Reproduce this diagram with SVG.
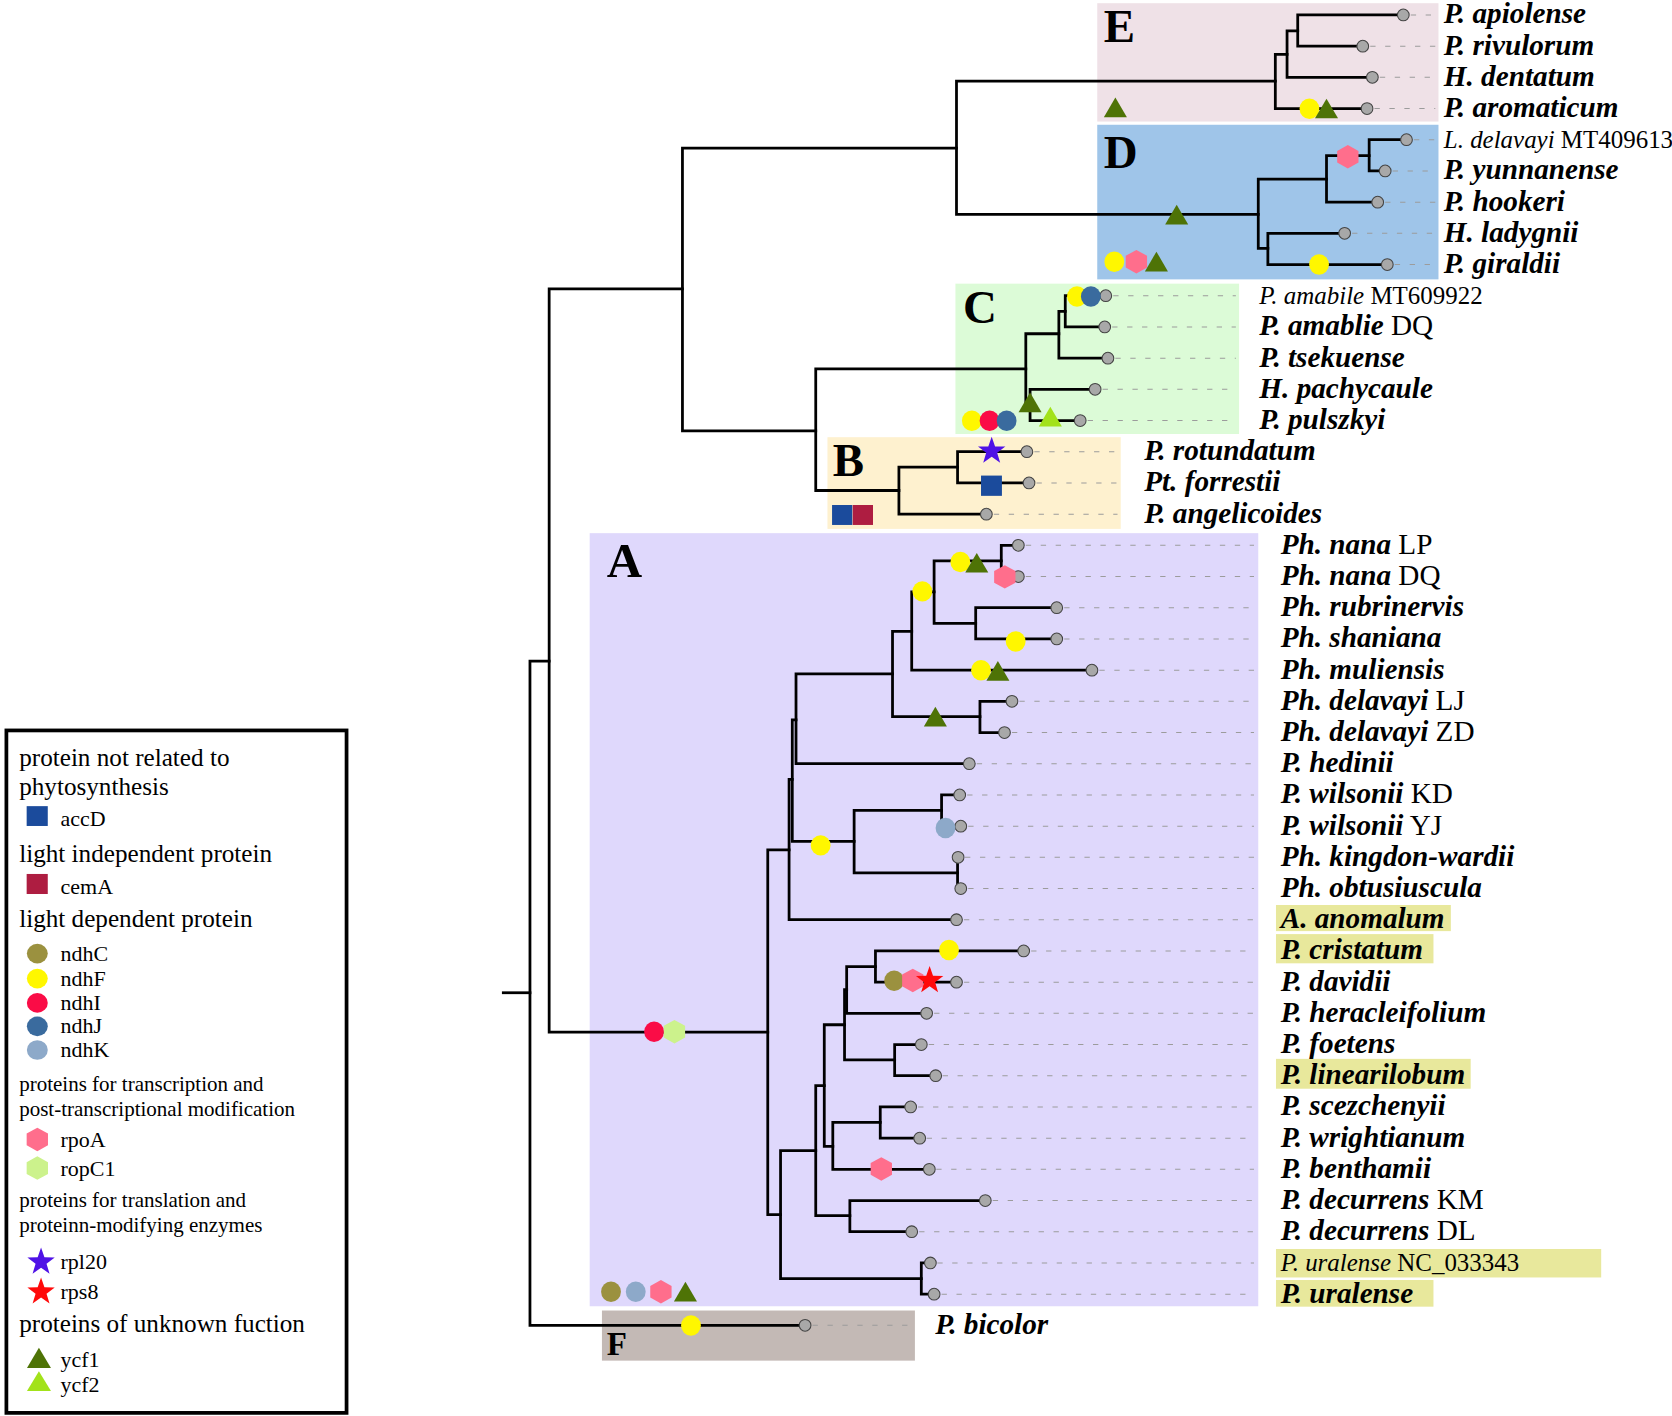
<svg xmlns="http://www.w3.org/2000/svg" xmlns:xlink="http://www.w3.org/1999/xlink" width="1672" height="1416" viewBox="0 0 1672 1416">
<style>
.br{stroke:#000;stroke-width:2.6;fill:none;stroke-linejoin:miter;stroke-linecap:square}
.ds{stroke:#9c9c9c;stroke-width:1;stroke-dasharray:5 9;fill:none}
.tip{fill:#a8a8a8;stroke:#444;stroke-width:1}
text{font-family:"Liberation Serif","Times New Roman",serif;fill:#000}
.lb{font-size:27.4px;font-weight:bold;font-style:italic}
.rg{font-weight:normal;font-style:normal}
.lbs{font-size:23.4px;font-weight:normal;font-style:italic}
.cl{font-size:44px;font-weight:bold}
.lg1{font-size:23.6px}
.lg2{font-size:19.7px}
.lgi{font-size:20.6px}
.yel{fill:#fff700}.olv{fill:#9b913f}.red{fill:#fa0c46}.blu{fill:#3a6b9e}.lbl{fill:#8da9c9}
.pnk{fill:#ff6e8c}.lgr{fill:#ccf28c}.pur{fill:#4f12e6}.rst{fill:#ff0a0a}
.dg{fill:#4e7306}.lg{fill:#a2e21a}.acc{fill:#1b4b9c}.cem{fill:#ae1d41}
.hl{fill:#e8e89c}
</style>
<defs>
<path id="hex" d="M0,-11 L10,-5.5 L10,5.5 L0,11 L-10,5.5 L-10,-5.5 Z"/>
<path id="tri" d="M0,-9.5 L10.8,9 L-10.8,9 Z"/>
<path id="star" d="M0,-13.5 L3.17,-4.37 L12.84,-4.17 L5.14,1.67 L7.94,10.92 L0,5.4 L-7.94,10.92 L-5.14,1.67 L-12.84,-4.17 L-3.17,-4.37 Z"/>
<ellipse id="dot" cx="0" cy="0" rx="9.3" ry="9.6"/>
</defs>
<rect width="1672" height="1416" fill="#fff"/>
<g transform="scale(1.066327)">
<g id="clade-boxes">
<rect x="1029" y="3" width="320" height="111" fill="#efe1e7"/>
<rect x="1029" y="117" width="320" height="145" fill="#9fc5e9"/>
<rect x="896" y="266" width="266" height="141" fill="#dcfbd7"/>
<rect x="776" y="410" width="275" height="86" fill="#fef1cf"/>
<rect x="553" y="500" width="627" height="725" fill="#dfd8fc"/>
<rect x="564.5" y="1229" width="293.5" height="47" fill="#c3b9b5"/>
<rect class="hl" x="1196.6" y="848.7" width="164" height="24.5"/>
<rect class="hl" x="1196.6" y="876" width="147.7" height="27.4"/>
<rect class="hl" x="1196.6" y="993" width="182.6" height="28"/>
<rect class="hl" x="1196.6" y="1171.3" width="305" height="26.7"/>
<rect class="hl" x="1196.6" y="1200.4" width="147.7" height="25"/>
</g>
<g id="clade-labels">
<text class="cl" x="1035" y="39">E</text>
<text class="cl" x="1035" y="158">D</text>
<text class="cl" x="903" y="302.6">C</text>
<text class="cl" x="781" y="446">B</text>
<text class="cl" x="569" y="541" style="font-size:46px">A</text>
<text class="cl" x="569" y="1270.7" style="font-size:31px">F</text>
</g>
<g id="connectors">
<path class="br" d="M472,931 H497"/>
<path class="br" d="M515,620 H497 V1243 H755"/>
<path class="br" d="M640,271 H515 V968 H720"/>
<path class="br" d="M897,139 H640 V404 H765"/>
<path class="br" d="M1196,76 H897 V201 H1180"/>
<path class="br" d="M1207,51 H1196 V101.8 H1282"/>
<path class="br" d="M1217,29 H1207 V72.5 H1287"/>
<path class="br" d="M1316,14 H1217 V43.3 H1278"/>
<path class="br" d="M1244,168 H1180 V233 H1189"/>
<path class="br" d="M1284,146 H1244 V189.6 H1292"/>
<path class="br" d="M1319,131 H1284 V160.3 H1299"/>
<path class="br" d="M1261,218.8 H1189 V248.1 H1301"/>
<path class="br" d="M962,346 H765 V460 H843"/>
<path class="br" d="M993,313 H962 V379 H966"/>
<path class="br" d="M999,292 H993 V335.9 H1039"/>
<path class="br" d="M1037,277.3 H999 V306.6 H1036"/>
<path class="br" d="M1027,365.1 H966 V394.4 H1013"/>
<path class="br" d="M898,438 H843 V482.2 H925"/>
<path class="br" d="M963,423.6 H898 V452.9 H965"/>
<path class="br" d="M740,797 H720 V1139 H732"/>
<path class="br" d="M743,731 H740 V862.5 H897"/>
<path class="br" d="M746.5,675 H743 V789 H801"/>
<path class="br" d="M837,632 H746.5 V716.2 H909"/>
<path class="br" d="M855,592 H837 V672 H919"/>
<path class="br" d="M949,657.7 H919 V687 H942"/>
<path class="br" d="M876,555 H855 V628.5 H1024"/>
<path class="br" d="M939,526 H876 V584.5 H915"/>
<path class="br" d="M955,511.4 H939 V540.7 H955"/>
<path class="br" d="M991,569.9 H915 V599.2 H991"/>
<path class="br" d="M883,760 H801 V818.5 H898"/>
<path class="br" d="M900,745.5 H883 V774.8 H901"/>
<path class="br" d="M898.5,804 H898 V833.3 H901"/>
<path class="br" d="M765,1079 H732 V1199 H864"/>
<path class="br" d="M872.5,1184.4 H864 V1213.7 H876"/>
<path class="br" d="M773,1018 H765 V1140 H797"/>
<path class="br" d="M924,1125.9 H797 V1155.1 H855"/>
<path class="br" d="M792,961 H773 V1075 H781"/>
<path class="br" d="M825.5,1052.5 H781 V1096.6 H871.5"/>
<path class="br" d="M854,1038.1 H825.5 V1067.4 H862.5"/>
<path class="br" d="M794,928 H792 V994 H839"/>
<path class="br" d="M821,906.5 H794 V950.3 H869"/>
<path class="br" d="M960,891.8 H821 V921.1 H897"/>
<path class="br" d="M864,979.6 H839 V1008.8 H877.5"/>
<g id="dashes">
<path class="ds" d="M1323,14 H1346 M1285,43.3 H1346 M1294,72.5 H1346 M1289,101.8 H1346 M1326,131 H1346 M1306,160.3 H1346 M1299,189.6 H1346 M1268,218.8 H1346 M1308,248.1 H1346"/>
<path class="ds" d="M1044,277.3 H1159 M1043,306.6 H1159 M1046,335.9 H1159 M1034,365.1 H1159 M1020,394.4 H1159"/>
<path class="ds" d="M970,423.6 H1048 M972,452.9 H1048 M932,482.2 H1048"/>
<path class="ds" d="M962,511.4 H1176 M962,540.7 H1176 M998,569.9 H1176 M998,599.2 H1176 M1031,628.5 H1176 M956,657.7 H1176 M949,687 H1176 M916,716.2 H1176 M907,745.5 H1176 M908,774.8 H1176 M905,804 H1176 M908,833.3 H1176 M904,862.5 H1176 M967,891.8 H1176 M904,921.1 H1176 M876,950.3 H1176 M871,979.6 H1176 M884,1008.8 H1176 M861,1038.1 H1176 M869,1067.4 H1176 M878,1096.6 H1176 M931,1125.9 H1176 M862,1155.1 H1176 M879,1184.4 H1176 M883,1213.7 H1176"/>
<path class="ds" d="M762,1242.9 H854"/>
</g>
</g>
<g id="tips">
<circle class="tip" cx="1316" cy="14" r="5.5"/>
<circle class="tip" cx="1278" cy="43.3" r="5.5"/>
<circle class="tip" cx="1287" cy="72.5" r="5.5"/>
<circle class="tip" cx="1282" cy="101.8" r="5.5"/>
<circle class="tip" cx="1319" cy="131" r="5.5"/>
<circle class="tip" cx="1299" cy="160.3" r="5.5"/>
<circle class="tip" cx="1292" cy="189.6" r="5.5"/>
<circle class="tip" cx="1261" cy="218.8" r="5.5"/>
<circle class="tip" cx="1301" cy="248.1" r="5.5"/>
<circle class="tip" cx="1037" cy="277.3" r="5.5"/>
<circle class="tip" cx="1036" cy="306.6" r="5.5"/>
<circle class="tip" cx="1039" cy="335.9" r="5.5"/>
<circle class="tip" cx="1027" cy="365.1" r="5.5"/>
<circle class="tip" cx="1013" cy="394.4" r="5.5"/>
<circle class="tip" cx="963" cy="423.6" r="5.5"/>
<circle class="tip" cx="965" cy="452.9" r="5.5"/>
<circle class="tip" cx="925" cy="482.2" r="5.5"/>
<circle class="tip" cx="955" cy="511.4" r="5.5"/>
<circle class="tip" cx="955" cy="540.7" r="5.5"/>
<circle class="tip" cx="991" cy="569.9" r="5.5"/>
<circle class="tip" cx="991" cy="599.2" r="5.5"/>
<circle class="tip" cx="1024" cy="628.5" r="5.5"/>
<circle class="tip" cx="949" cy="657.7" r="5.5"/>
<circle class="tip" cx="942" cy="687" r="5.5"/>
<circle class="tip" cx="909" cy="716.2" r="5.5"/>
<circle class="tip" cx="900" cy="745.5" r="5.5"/>
<circle class="tip" cx="901" cy="774.8" r="5.5"/>
<circle class="tip" cx="898.5" cy="804" r="5.5"/>
<circle class="tip" cx="901" cy="833.3" r="5.5"/>
<circle class="tip" cx="897" cy="862.5" r="5.5"/>
<circle class="tip" cx="960" cy="891.8" r="5.5"/>
<circle class="tip" cx="897" cy="921.1" r="5.5"/>
<circle class="tip" cx="869" cy="950.3" r="5.5"/>
<circle class="tip" cx="864" cy="979.6" r="5.5"/>
<circle class="tip" cx="877.5" cy="1008.8" r="5.5"/>
<circle class="tip" cx="854" cy="1038.1" r="5.5"/>
<circle class="tip" cx="862.5" cy="1067.4" r="5.5"/>
<circle class="tip" cx="871.5" cy="1096.6" r="5.5"/>
<circle class="tip" cx="924" cy="1125.9" r="5.5"/>
<circle class="tip" cx="855" cy="1155.1" r="5.5"/>
<circle class="tip" cx="872.5" cy="1184.4" r="5.5"/>
<circle class="tip" cx="876" cy="1213.7" r="5.5"/>
<circle class="tip" cx="755" cy="1242.9" r="5.5"/>
</g>
<g id="gene-markers">
<use href="#tri" class="dg" x="1046" y="101"/>
<use href="#dot" class="yel" x="1228" y="102"/>
<use href="#tri" class="dg" x="1244" y="102"/>
<use href="#tri" class="dg" x="1103.5" y="201.5"/>
<use href="#hex" class="pnk" x="1264" y="147"/>
<use href="#dot" class="yel" x="1237" y="248"/>
<use href="#dot" class="yel" x="1045" y="245.4"/>
<use href="#hex" class="pnk" x="1065.7" y="245.4"/>
<use href="#tri" class="dg" x="1084.5" y="245.5"/>
<use href="#dot" class="yel" x="1010" y="278"/>
<use href="#dot" class="blu" x="1023" y="278"/>
<use href="#dot" class="yel" x="911.4" y="394.5"/>
<use href="#dot" class="red" x="928" y="394.5"/>
<use href="#dot" class="blu" x="944" y="394.5"/>
<use href="#tri" class="dg" x="966" y="377.5"/>
<use href="#tri" class="lg" x="985" y="391"/>
<use href="#star" class="pur" x="930" y="423"/>
<rect class="acc" x="920" y="446" width="19.6" height="19"/>
<rect class="acc" x="780.3" y="473.6" width="19" height="18.7"/>
<rect class="cem" x="799.7" y="473.6" width="19" height="18.7"/>
<use href="#dot" class="yel" x="900.6" y="527"/>
<use href="#tri" class="dg" x="916" y="528"/>
<use href="#hex" class="pnk" x="942.3" y="541"/>
<use href="#dot" class="yel" x="865" y="554.6"/>
<use href="#dot" class="yel" x="952.5" y="601.5"/>
<use href="#dot" class="yel" x="920" y="628.5"/>
<use href="#tri" class="dg" x="935.8" y="629.5"/>
<use href="#tri" class="dg" x="877.2" y="672.3"/>
<use href="#dot" class="yel" x="769.6" y="792.8"/>
<use href="#dot" class="lbl" x="886.7" y="776.4"/>
<use href="#dot" class="red" x="613.4" y="967.5"/>
<use href="#hex" class="lgr" x="632.5" y="967.5"/>
<use href="#dot" class="yel" x="890" y="891"/>
<use href="#dot" class="olv" x="838.5" y="919.7"/>
<use href="#hex" class="pnk" x="856" y="919.5"/>
<use href="#star" class="rst" x="871.8" y="919.5"/>
<use href="#hex" class="pnk" x="826.5" y="1096.2"/>
<use href="#dot" class="olv" x="573" y="1211.4"/>
<use href="#dot" class="lbl" x="596.2" y="1211.4"/>
<use href="#hex" class="pnk" x="619.8" y="1211.4"/>
<use href="#tri" class="dg" x="642.8" y="1211.5"/>
<use href="#dot" class="yel" x="648" y="1243"/>
</g>
<g id="taxon-labels">
<text class="lb" x="1354" y="22">P. apiolense</text>
<text class="lb" x="1354" y="51.3">P. rivulorum</text>
<text class="lb" x="1354" y="80.5">H. dentatum</text>
<text class="lb" x="1354" y="109.8">P. aromaticum</text>
<text class="lbs" x="1354" y="138.5">L. delavayi<tspan class="rg"> MT409613</tspan></text>
<text class="lb" x="1354" y="168.3">P. yunnanense</text>
<text class="lb" x="1354" y="197.6">P. hookeri</text>
<text class="lb" x="1354" y="226.8">H. ladygnii</text>
<text class="lb" x="1354" y="256.1">P. giraldii</text>
<text class="lbs" x="1181" y="284.8">P. amabile<tspan class="rg"> MT609922</tspan></text>
<text class="lb" x="1181" y="314.6">P. amablie<tspan class="rg"> DQ</tspan></text>
<text class="lb" x="1181" y="343.9">P. tsekuense</text>
<text class="lb" x="1181" y="373.1">H. pachycaule</text>
<text class="lb" x="1181" y="402.4">P. pulszkyi</text>
<text class="lb" x="1073" y="431.6">P. rotundatum</text>
<text class="lb" x="1073" y="460.9">Pt. forrestii</text>
<text class="lb" x="1073" y="490.2">P. angelicoides</text>
<text class="lb" x="1201" y="519.4">Ph. nana<tspan class="rg"> LP</tspan></text>
<text class="lb" x="1201" y="548.7">Ph. nana<tspan class="rg"> DQ</tspan></text>
<text class="lb" x="1201" y="577.9">Ph. rubrinervis</text>
<text class="lb" x="1201" y="607.2">Ph. shaniana</text>
<text class="lb" x="1201" y="636.5">Ph. muliensis</text>
<text class="lb" x="1201" y="665.7">Ph. delavayi<tspan class="rg"> LJ</tspan></text>
<text class="lb" x="1201" y="695">Ph. delavayi<tspan class="rg"> ZD</tspan></text>
<text class="lb" x="1201" y="724.2">P. hedinii</text>
<text class="lb" x="1201" y="753.5">P. wilsonii<tspan class="rg"> KD</tspan></text>
<text class="lb" x="1201" y="782.8">P. wilsonii<tspan class="rg"> YJ</tspan></text>
<text class="lb" x="1201" y="812">Ph. kingdon-wardii</text>
<text class="lb" x="1201" y="841.3">Ph. obtusiuscula</text>
<text class="lb" x="1201" y="870.5">A. anomalum</text>
<text class="lb" x="1201" y="899.8">P. cristatum</text>
<text class="lb" x="1201" y="929.1">P. davidii</text>
<text class="lb" x="1201" y="958.3">P. heracleifolium</text>
<text class="lb" x="1201" y="987.6">P. foetens</text>
<text class="lb" x="1201" y="1016.8">P. linearilobum</text>
<text class="lb" x="1201" y="1046.1">P. scezchenyii</text>
<text class="lb" x="1201" y="1075.4">P. wrightianum</text>
<text class="lb" x="1201" y="1104.6">P. benthamii</text>
<text class="lb" x="1201" y="1133.9">P. decurrens<tspan class="rg"> KM</tspan></text>
<text class="lb" x="1201" y="1163.1">P. decurrens<tspan class="rg"> DL</tspan></text>
<text class="lbs" x="1201" y="1191.9">P. uralense<tspan class="rg"> NC_033343</tspan></text>
<text class="lb" x="1201" y="1221.7">P. uralense</text>
<text class="lb" x="877" y="1250.9">P. bicolor</text>
</g>
<g id="legend">
<rect x="6" y="685" width="319" height="640" fill="#fff" stroke="#000" stroke-width="3.5"/>
<text class="lg1" x="18" y="718.3">protein not related to</text>
<text class="lg1" x="18" y="746">phytosynthesis</text>
<rect class="acc" x="25" y="756" width="19.8" height="18.6"/>
<text class="lgi" x="56.8" y="774.6">accD</text>
<text class="lg1" x="18" y="808">light independent protein</text>
<rect class="cem" x="25" y="819.6" width="19.8" height="18.8"/>
<text class="lgi" x="56.8" y="838">cemA</text>
<text class="lg1" x="18" y="869">light dependent protein</text>
<ellipse class="olv" cx="35" cy="894.3" rx="9.8" ry="9.2"/>
<text class="lgi" x="56.8" y="901">ndhC</text>
<ellipse class="yel" cx="35" cy="917.7" rx="9.8" ry="9.2"/>
<text class="lgi" x="56.8" y="924.4">ndhF</text>
<ellipse class="red" cx="35" cy="940.5" rx="9.8" ry="9.2"/>
<text class="lgi" x="56.8" y="947.2">ndhI</text>
<ellipse class="blu" cx="35" cy="962.5" rx="9.8" ry="9.2"/>
<text class="lgi" x="56.8" y="969.2">ndhJ</text>
<ellipse class="lbl" cx="35" cy="984.7" rx="9.8" ry="9.2"/>
<text class="lgi" x="56.8" y="991.4">ndhK</text>
<text class="lg2" x="18" y="1023">proteins for transcription and</text>
<text class="lg2" x="18" y="1046.6">post-transcriptional modification</text>
<use href="#hex" class="pnk" x="35" y="1068.6"/>
<text class="lgi" x="56.8" y="1076">rpoA</text>
<use href="#hex" class="lgr" x="35" y="1095.4"/>
<text class="lgi" x="56.8" y="1102.5">ropC1</text>
<text class="lg2" x="18" y="1131.7">proteins for translation and</text>
<text class="lg2" x="18" y="1155.2">proteinn-modifying enzymes</text>
<use href="#star" class="pur" x="38.5" y="1183.5"/>
<text class="lgi" x="56.8" y="1190">rpl20</text>
<use href="#star" class="rst" x="38.5" y="1211.5"/>
<text class="lgi" x="56.8" y="1218.5">rps8</text>
<text class="lg1" x="18" y="1249">proteins of unknown fuction</text>
<path class="dg" d="M36.5,1264 L47.8,1283 L25.3,1283 Z"/>
<text class="lgi" x="56.8" y="1282">ycf1</text>
<path class="lg" d="M36.5,1286 L47.8,1304.5 L25.3,1304.5 Z"/>
<text class="lgi" x="56.8" y="1305">ycf2</text>
</g>
</g>
</svg>
